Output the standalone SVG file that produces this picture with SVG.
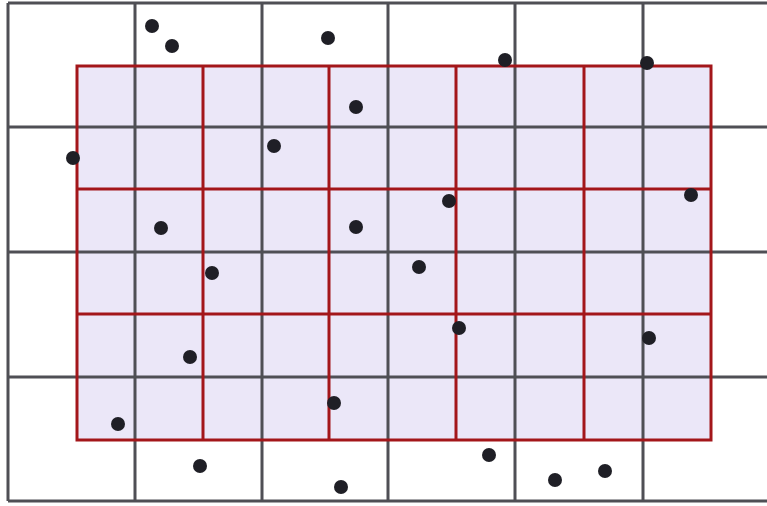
<svg xmlns="http://www.w3.org/2000/svg" width="767" height="506" viewBox="0 0 767 506">
<defs>
<style>
.g{stroke:#4f4f55;stroke-width:3;fill:none}
.r{stroke:#a3161a;stroke-width:3;fill:none}
.d{fill:#1f1f26}
</style>
</defs>
<rect width="767" height="506" fill="#ffffff"/>
<g id="fine-grid-fill">
<rect x="77" y="66" width="634" height="374" fill="#ebe7f8"/>
</g>
<g id="coarse-grid">
<path class="g" d="M8 3V501M135 3V501M262 3V501M388 3V501M515 3V501M643 3V501"/>
<path class="g" d="M8 3H767M8 127H767M8 252H767M8 377H767M8 501H767"/>
</g>
<g id="fine-grid">
<rect class="r" x="77" y="66" width="634" height="374"/>
<path class="r" d="M203 66V440M329 66V440M456 66V440M584 66V440M77 189H711M77 314H711"/>
</g>
<g id="points">
<circle class="d" cx="152" cy="26" r="7"/>
<circle class="d" cx="172" cy="46" r="7"/>
<circle class="d" cx="328" cy="38" r="7"/>
<circle class="d" cx="505" cy="60" r="7"/>
<circle class="d" cx="647" cy="63" r="7"/>
<circle class="d" cx="356" cy="107" r="7"/>
<circle class="d" cx="73" cy="158" r="7"/>
<circle class="d" cx="274" cy="146" r="7"/>
<circle class="d" cx="449" cy="201" r="7"/>
<circle class="d" cx="691" cy="195" r="7"/>
<circle class="d" cx="161" cy="228" r="7"/>
<circle class="d" cx="356" cy="227" r="7"/>
<circle class="d" cx="212" cy="273" r="7"/>
<circle class="d" cx="419" cy="267" r="7"/>
<circle class="d" cx="459" cy="328" r="7"/>
<circle class="d" cx="649" cy="338" r="7"/>
<circle class="d" cx="190" cy="357" r="7"/>
<circle class="d" cx="334" cy="403" r="7"/>
<circle class="d" cx="118" cy="424" r="7"/>
<circle class="d" cx="200" cy="466" r="7"/>
<circle class="d" cx="489" cy="455" r="7"/>
<circle class="d" cx="341" cy="487" r="7"/>
<circle class="d" cx="555" cy="480" r="7"/>
<circle class="d" cx="605" cy="471" r="7"/>
</g>
</svg>
